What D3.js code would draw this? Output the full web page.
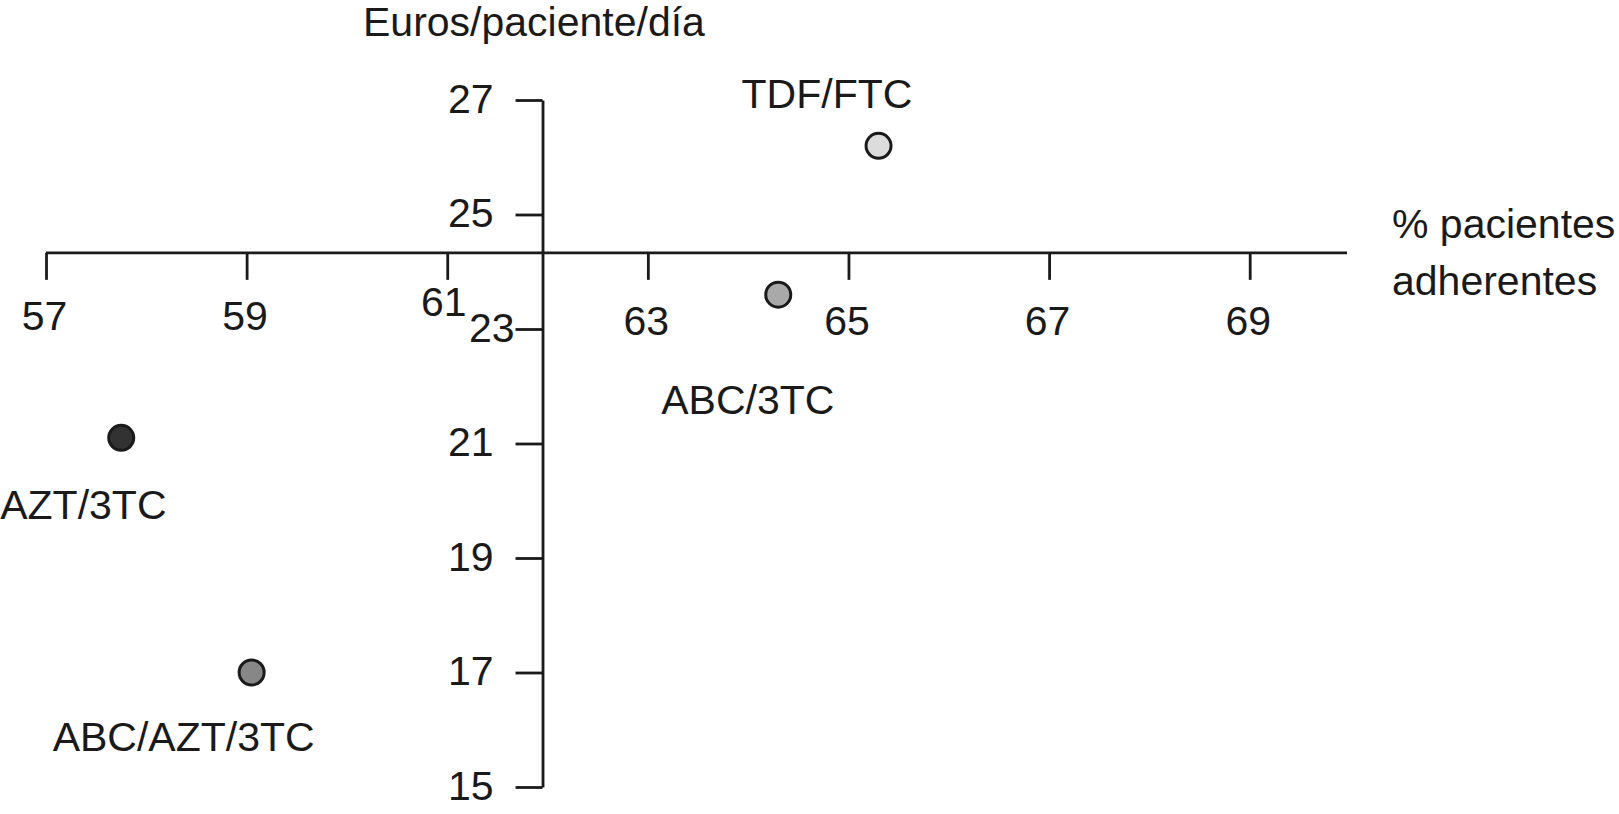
<!DOCTYPE html>
<html>
<head>
<meta charset="utf-8">
<script src="https://cdn.jsdelivr.net/npm/d3@7/dist/d3.min.js"></script>
<style>
  html, body { margin: 0; padding: 0; background: #ffffff; }
  svg { display: block; }
  text { font-family: "Liberation Sans", Arial, Helvetica, sans-serif; fill: #1a1a1a; }
</style>
</head>
<body>
<svg id="chart" width="1619" height="814"></svg>
<script>
// ---- data ----
const regimens  = ["TDF/FTC", "ABC/3TC", "AZT/3TC", "ABC/AZT/3TC"];
const adherence = [65.3, 64.3, 57.75, 59.05];   // % pacientes adherentes
const cost      = [26.2, 23.6, 21.1, 17.0];     // Euros/paciente/día
const xTicks = [57, 59, 61, 63, 65, 67, 69];
const yTicks = [15, 17, 19, 21, 23, 25, 27];
const xTitle = ["% pacientes", "adherentes"];
const yTitle = "Euros/paciente/día";

// ---- styling / layout ----
const fills = ["#dcdcdc", "#a9a9a9", "#323232", "#878787"];
const labelOffsets = [[-137, -38], [-117, 119], [-121, 81], [-199, 78]];
const ink = "#1a1a1a";
const fs = 41;
const xCross = 61.95;   // x value where the vertical axis crosses
const yCross = 24.33;   // y value where the horizontal axis crosses

const svg = d3.select("#chart");
const x = d3.scaleLinear().domain([57, 70]).range([46, 1350]);
const y = d3.scaleLinear().domain([15, 27]).range([787, 100]);

// horizontal axis
const gx = svg.append("g")
  .attr("transform", `translate(0,${y(yCross)})`)
  .call(d3.axisBottom(x).tickValues(xTicks).tickSize(27).tickSizeOuter(0).tickFormat(d3.format("d")));
gx.select(".domain").attr("d", `M${x(57)},0H1347`);

// vertical axis
const gy = svg.append("g")
  .attr("transform", `translate(${x(xCross)},0)`)
  .call(d3.axisLeft(y).tickValues(yTicks).tickSize(27).tickSizeOuter(0).tickFormat(d3.format("d")));

[gx, gy].forEach(g => {
  g.select(".domain").attr("stroke", ink).attr("stroke-width", 2.8).attr("fill", "none");
  g.selectAll(".tick line").attr("stroke", ink).attr("stroke-width", 2.8);
  g.selectAll(".tick text").attr("fill", ink).style("font-size", fs + "px")
   .style("font-family", '"Liberation Sans", Arial, sans-serif');
});

gx.selectAll(".tick text")
  .attr("dy", 0)
  .attr("y", d => d === 61 ? 63 : (d < xCross ? 77 : 82.5))
  .attr("dx", d => d === 61 ? -4 : -2);

gy.selectAll(".tick text")
  .attr("dy", 0)
  .attr("y", 12)
  .attr("x", d => d === 23 ? -28 : -49);

// axis titles
svg.append("text").attr("x", 363).attr("y", 36).style("font-size", fs + "px").text(yTitle);
svg.append("text").attr("x", 1392).attr("y", 238).style("font-size", fs + "px").text(xTitle[0]);
svg.append("text").attr("x", 1392).attr("y", 295).style("font-size", fs + "px").text(xTitle[1]);

// points
const pts = regimens.map((r, i) => ({ name: r, ax: adherence[i], cy: cost[i], fill: fills[i], off: labelOffsets[i] }));
svg.append("g").selectAll("circle").data(pts).join("circle")
  .attr("cx", d => x(d.ax)).attr("cy", d => y(d.cy)).attr("r", 12.5)
  .attr("fill", d => d.fill).attr("stroke", ink).attr("stroke-width", 3);

svg.append("g").selectAll("text").data(pts).join("text")
  .attr("x", d => x(d.ax) + d.off[0]).attr("y", d => y(d.cy) + d.off[1])
  .style("font-size", fs + "px").text(d => d.name);
</script>
</body>
</html>
